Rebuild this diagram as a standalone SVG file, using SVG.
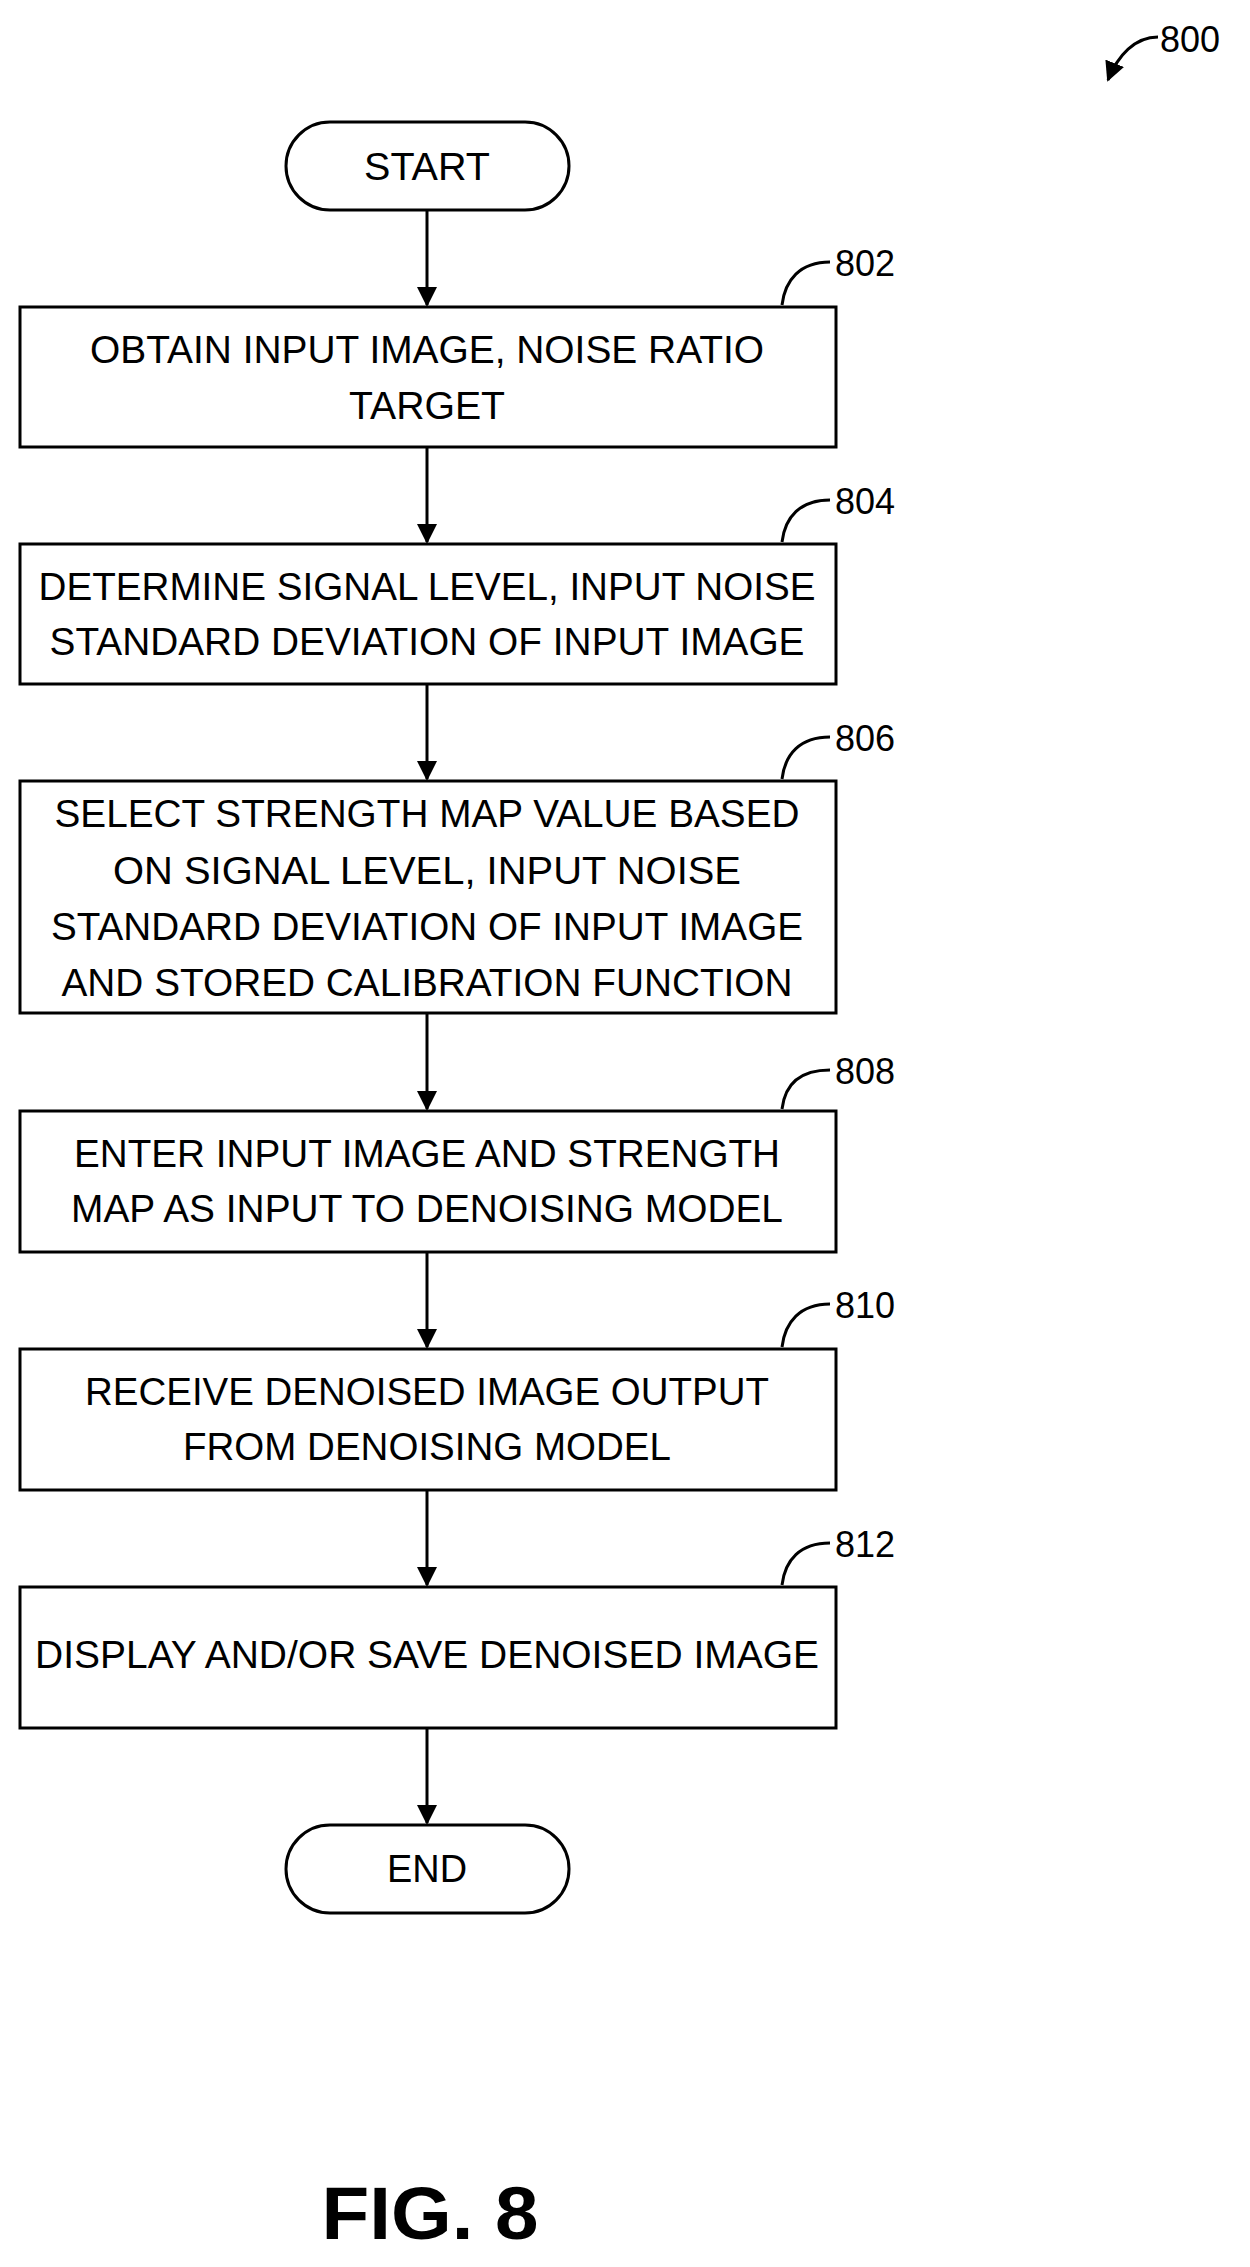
<svg xmlns="http://www.w3.org/2000/svg" width="1250" height="2267" viewBox="0 0 1250 2267">
<style>
.b{fill:#fff;stroke:#000;stroke-width:3}
.t{font-family:"Liberation Sans",Arial,sans-serif;font-size:39px;text-anchor:middle;fill:#000}
.l{font-family:"Liberation Sans",Arial,sans-serif;font-size:36px;fill:#000}
.c{fill:none;stroke:#000;stroke-width:3}
</style>
<defs><marker id="a" markerWidth="10" markerHeight="10" refX="9" refY="5" orient="auto" markerUnits="userSpaceOnUse" viewBox="0 0 10 10"><path d="M0,0L10,5L0,10z"/></marker>
<marker id="h" viewBox="0 0 10 10" refX="9" refY="5" markerWidth="20" markerHeight="20" orient="auto" markerUnits="userSpaceOnUse"><path d="M0,0L10,5L0,10z"/></marker></defs>
<g id="connectors">
<line class="c" x1="427" y1="210" x2="427" y2="305" marker-end="url(#h)"/>
<line class="c" x1="427" y1="447" x2="427" y2="542" marker-end="url(#h)"/>
<line class="c" x1="427" y1="684" x2="427" y2="779" marker-end="url(#h)"/>
<line class="c" x1="427" y1="1013" x2="427" y2="1109" marker-end="url(#h)"/>
<line class="c" x1="427" y1="1252" x2="427" y2="1347" marker-end="url(#h)"/>
<line class="c" x1="427" y1="1490" x2="427" y2="1585" marker-end="url(#h)"/>
<line class="c" x1="427" y1="1728" x2="427" y2="1823" marker-end="url(#h)"/>
</g>
<g id="start"><rect class="b" x="286" y="122" width="283" height="88" rx="44"/><text class="t" x="427" y="180" textLength="126" lengthAdjust="spacingAndGlyphs">START</text></g>
<g id="n802"><rect class="b" x="20" y="307" width="816" height="140"/>
<text class="t" x="427" y="363" textLength="674" lengthAdjust="spacingAndGlyphs">OBTAIN INPUT IMAGE, NOISE RATIO</text>
<text class="t" x="427" y="419" textLength="156" lengthAdjust="spacingAndGlyphs">TARGET</text>
<path class="c" d="M782,305 C785,280 800,262 830,262"/><text class="l" x="835" y="276">802</text></g>
<g id="n804"><rect class="b" x="20" y="544" width="816" height="140"/>
<text class="t" x="427" y="600" textLength="777" lengthAdjust="spacingAndGlyphs">DETERMINE SIGNAL LEVEL, INPUT NOISE</text>
<text class="t" x="427" y="655" textLength="755" lengthAdjust="spacingAndGlyphs">STANDARD DEVIATION OF INPUT IMAGE</text>
<path class="c" d="M782,542 C785,517 800,500 830,500"/><text class="l" x="835" y="514">804</text></g>
<g id="n806"><rect class="b" x="20" y="781" width="816" height="232"/>
<text class="t" x="427" y="827" textLength="745" lengthAdjust="spacingAndGlyphs">SELECT STRENGTH MAP VALUE BASED</text>
<text class="t" x="427" y="884" textLength="628" lengthAdjust="spacingAndGlyphs">ON SIGNAL LEVEL, INPUT NOISE</text>
<text class="t" x="427" y="940" textLength="752" lengthAdjust="spacingAndGlyphs">STANDARD DEVIATION OF INPUT IMAGE</text>
<text class="t" x="427" y="996" textLength="731" lengthAdjust="spacingAndGlyphs">AND STORED CALIBRATION FUNCTION</text>
<path class="c" d="M782,779 C785,754 800,737 830,737"/><text class="l" x="835" y="751">806</text></g>
<g id="n808"><rect class="b" x="20" y="1111" width="816" height="141"/>
<text class="t" x="427" y="1167" textLength="706" lengthAdjust="spacingAndGlyphs">ENTER INPUT IMAGE AND STRENGTH</text>
<text class="t" x="427" y="1222" textLength="712" lengthAdjust="spacingAndGlyphs">MAP AS INPUT TO DENOISING MODEL</text>
<path class="c" d="M782,1109 C785,1084 800,1070 830,1070"/><text class="l" x="835" y="1084">808</text></g>
<g id="n810"><rect class="b" x="20" y="1349" width="816" height="141"/>
<text class="t" x="427" y="1405" textLength="684" lengthAdjust="spacingAndGlyphs">RECEIVE DENOISED IMAGE OUTPUT</text>
<text class="t" x="427" y="1460" textLength="488" lengthAdjust="spacingAndGlyphs">FROM DENOISING MODEL</text>
<path class="c" d="M782,1347 C785,1322 800,1304 830,1304"/><text class="l" x="835" y="1318">810</text></g>
<g id="n812"><rect class="b" x="20" y="1587" width="816" height="141"/>
<text class="t" x="427" y="1668" textLength="784" lengthAdjust="spacingAndGlyphs">DISPLAY AND/OR SAVE DENOISED IMAGE</text>
<path class="c" d="M782,1585 C785,1560 800,1543 830,1543"/><text class="l" x="835" y="1557">812</text></g>
<g id="end"><rect class="b" x="286" y="1825" width="283" height="88" rx="44"/><text class="t" x="427" y="1882" textLength="80" lengthAdjust="spacingAndGlyphs">END</text></g>
<g id="ref800"><path class="c" d="M1158,37 C1135,37 1118,55 1108,80" marker-end="url(#h)"/><text class="l" x="1160" y="52">800</text></g>
<text x="430" y="2239" text-anchor="middle" font-family="Liberation Sans,Arial,sans-serif" font-weight="bold" font-size="74" textLength="217" lengthAdjust="spacingAndGlyphs">FIG. 8</text>
</svg>
